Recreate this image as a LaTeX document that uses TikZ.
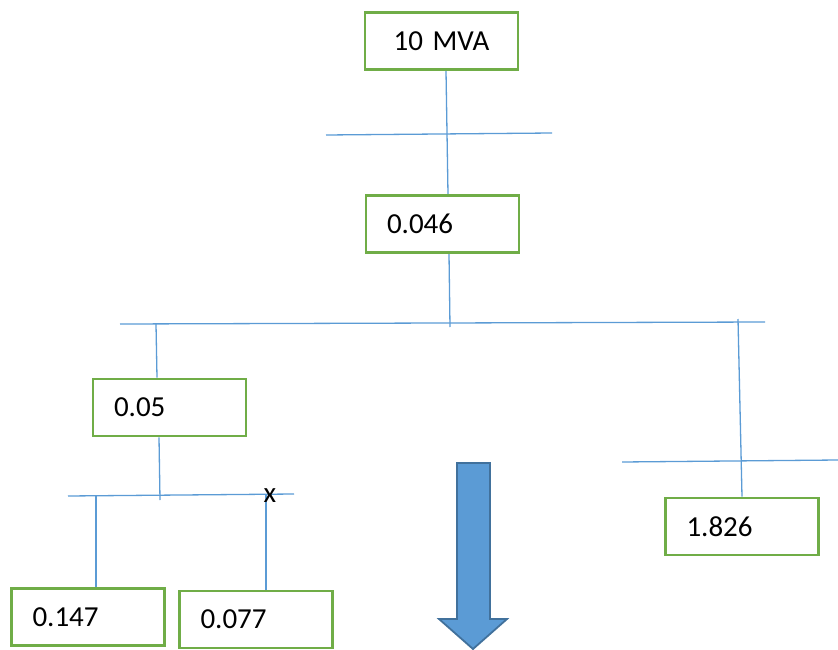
\documentclass[tikz,border=0pt]{standalone}
\usepackage{fontspec}
\setmainfont{Carlito}
\usetikzlibrary{calc}
\definecolor{boxgreen}{HTML}{70AD47}
\definecolor{wireblue}{HTML}{5B9BD5}
\definecolor{arrowedge}{HTML}{41719C}
\pgfdeclarelayer{wires}
\pgfsetlayers{wires,main}
\tikzset{
  imp/.style={draw=boxgreen, line width=2.6pt, minimum height=57pt,
    text width=111pt, inner xsep=21pt, inner ysep=0pt, align=left,
    font=\fontsize{29}{34}\selectfont},
  wire/.style={draw=wireblue, line width=1.3pt},
  downarrow/.style={fill=wireblue, draw=arrowedge, line width=1.8pt, line join=miter},
}
\begin{document}
\begin{tikzpicture}[x=1pt, y=-1pt]
  \useasboundingbox (0,0) rectangle (838,650);

  % impedance boxes
  \node[imp, align=center] (mva)   at (441.5,41)  {10 MVA};
  \node[imp] (b046)  at (442.5,224) {0.046};
  \node[imp] (b05)   at (169.5,407.5) {0.05};
  \node[imp] (b1826) at (742,526.5)   {1.826};
  \node[imp] (b147)  at (88,617)      {0.147};
  \node[imp] (b077)  at (256,619.5)   {0.077};

  % bus bar end points and tap points
  \coordinate (bus1w) at (326,135);  \coordinate (bus1e) at (552,133);
  \coordinate (bus2w) at (120,324);  \coordinate (bus2e) at (765,322);
  \coordinate (bus3w) at (622,462);  \coordinate (bus3e) at (838,460);
  \coordinate (bus4w) at (68,496);   \coordinate (bus4e) at (294,494);
  \coordinate (tap2)  at (450,327);
  \coordinate (drop05) at (156,324);
  \coordinate (tap4)  at (160,500);
  \coordinate (drop1826) at (738,319);
  \coordinate (drop147) at (96,496);
  \coordinate (drop077) at (266,494);

  \begin{pgfonlayer}{wires}
    \draw[wire] (bus1w) -- (bus1e);
    \draw[wire] (bus2w) -- (bus2e);
    \draw[wire] (bus3w) -- (bus3e);
    \draw[wire] (bus4w) -- (bus4e);
    \draw[wire] ($(mva.south)+(4.5,0)$) -- ($(b046.north)+(5.5,0)$);
    \draw[wire] ($(b046.south)+(6.5,0)$) -- (tap2);
    \draw[wire] (drop05) -- ($(b05.north)+(-12.5,0)$);
    \draw[wire] ($(b05.south)+(-10.5,0)$) -- (tap4);
    \draw[wire] (drop1826) -- (b1826.north);
    \draw[wire] (drop147) -- ($(b147.north)+(8,0)$);
    \draw[wire] (drop077) -- ($(b077.north)+(10,0)$);
  \end{pgfonlayer}

  % breaker mark on the 0.077 feeder
  \node[font=\fontsize{29}{34}\selectfont, inner sep=0pt] (brk) at (270,496) {x};

  % block arrow
  \draw[downarrow] (457,463) -- (490,463) -- (490,619) -- (507,619)
    -- (473,649) -- (439,619) -- (457,619) -- cycle;
\end{tikzpicture}
\end{document}
